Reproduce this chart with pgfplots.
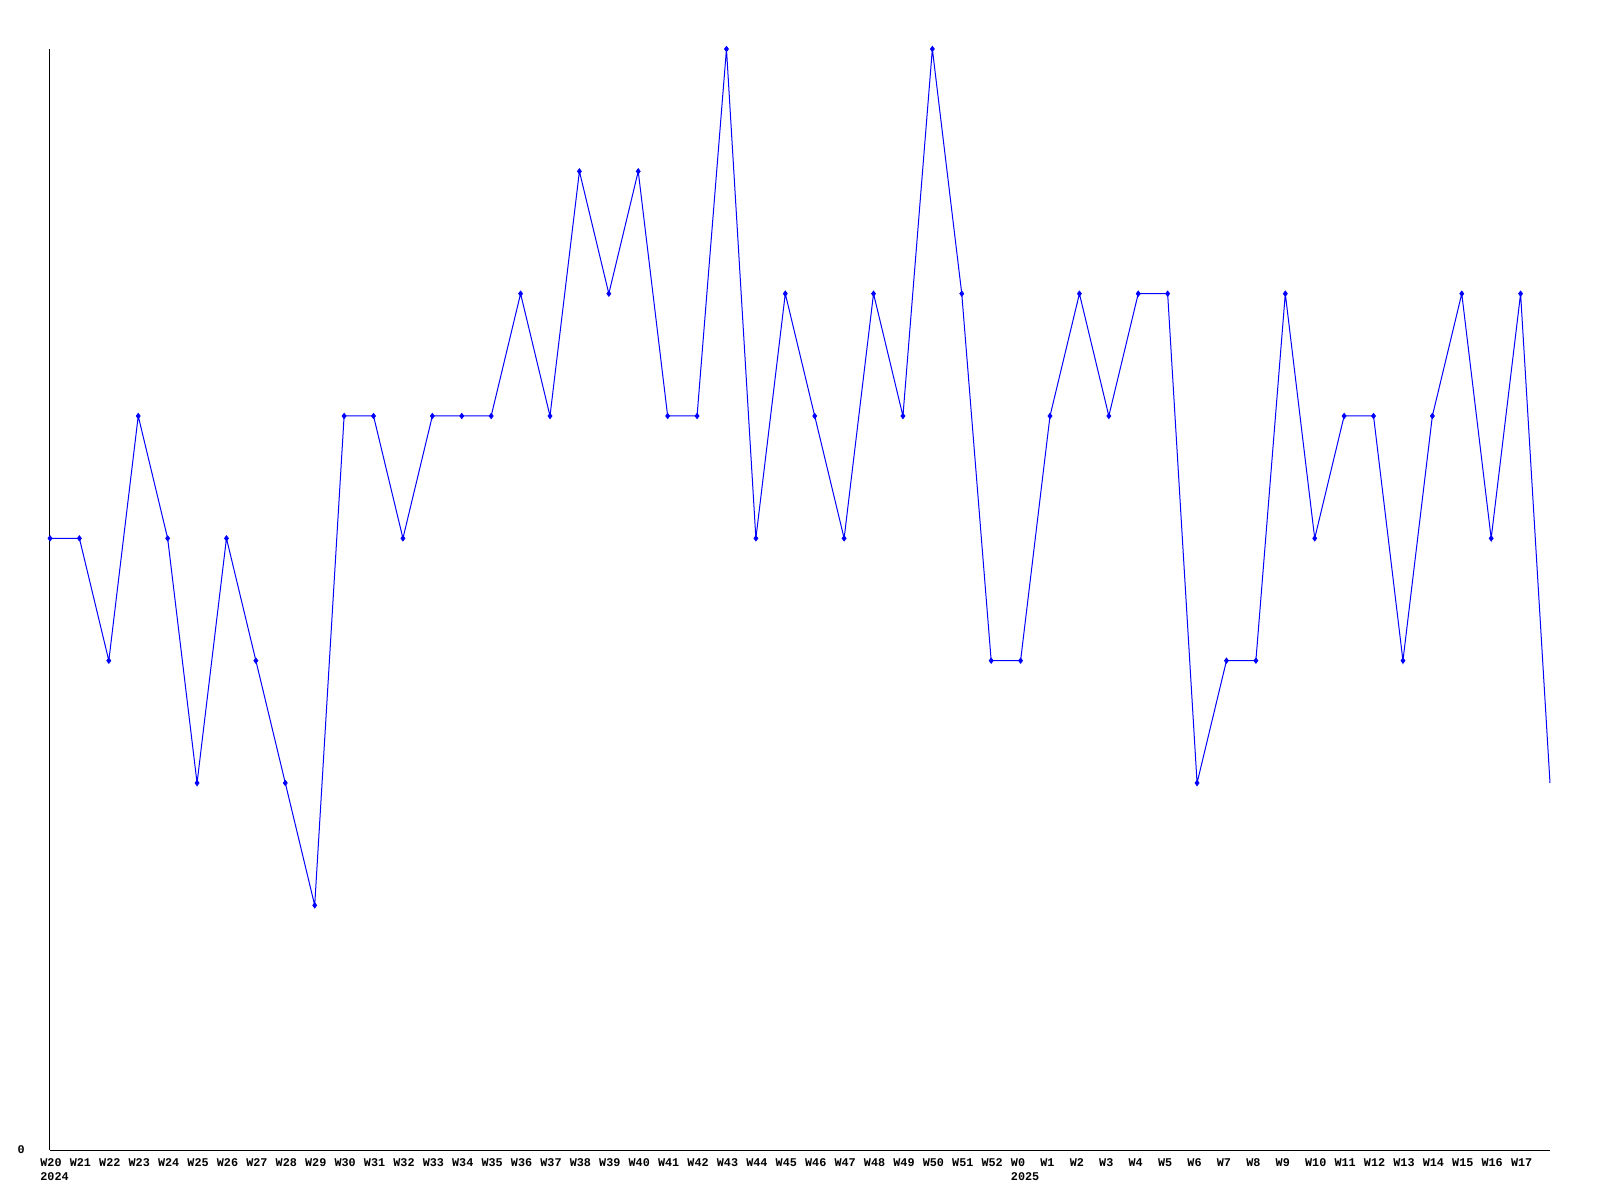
\documentclass[border=0pt]{standalone}
\usepackage{fontspec}
\setmonofont{Liberation Mono}
\usepackage{pgfplots}
\pgfplotsset{compat=1.18}
\begin{document}
\begin{tikzpicture}
\useasboundingbox (-25pt,-25pt) rectangle (775pt,575pt);
\begin{axis}[
  at={(0,0)}, anchor=south west,
  scale only axis, width=750pt, height=550.5pt,
  xmin=0, xmax=51, ymin=0, ymax=9,
  axis x line=bottom, axis y line=left,
  axis line style={-, line width=0.5pt, black},
  major tick length=0pt,
  xtick={0,...,50},
  xticklabels={W20\\2024,W21,W22,W23,W24,W25,W26,W27,W28,W29,W30,W31,W32,W33,W34,W35,W36,W37,W38,W39,W40,W41,W42,W43,W44,W45,W46,W47,W48,W49,W50,W51,W52,W0\\2025,W1,W2,W3,W4,W5,W6,W7,W8,W9,W10,W11,W12,W13,W14,W15,W16,W17},
  xticklabel style={anchor=north west, xshift=-5pt, yshift=-4pt, align=left, inner sep=0pt, font=\ttfamily\bfseries\fontsize{5.9}{7.3}\selectfont},
  ytick={0}, yticklabels={0},
  yticklabel style={anchor=east, xshift=-12.5pt, inner sep=0pt, font=\ttfamily\bfseries\fontsize{5.9}{7.3}\selectfont},
  clip=false,
]
\addplot[blue, line width=0.5pt, mark=none] coordinates {
(0,5)(1,5)(2,4)(3,6)(4,5)(5,3)(6,5)(7,4)(8,3)(9,2)(10,6)(11,6)(12,5)(13,6)(14,6)(15,6)(16,7)(17,6)(18,8)(19,7)(20,8)(21,6)(22,6)(23,9)(24,5)(25,7)(26,6)(27,5)(28,7)(29,6)(30,9)(31,7)(32,4)(33,4)(34,6)(35,7)(36,6)(37,7)(38,7)(39,3)(40,4)(41,4)(42,7)(43,5)(44,6)(45,6)(46,4)(47,6)(48,7)(49,5)(50,7)(51,3)
};
\addplot[blue, only marks, mark=diamond*, mark size=1.3pt] coordinates {
(0,5)(1,5)(2,4)(3,6)(4,5)(5,3)(6,5)(7,4)(8,3)(9,2)(10,6)(11,6)(12,5)(13,6)(14,6)(15,6)(16,7)(17,6)(18,8)(19,7)(20,8)(21,6)(22,6)(23,9)(24,5)(25,7)(26,6)(27,5)(28,7)(29,6)(30,9)(31,7)(32,4)(33,4)(34,6)(35,7)(36,6)(37,7)(38,7)(39,3)(40,4)(41,4)(42,7)(43,5)(44,6)(45,6)(46,4)(47,6)(48,7)(49,5)(50,7)
};
\end{axis}
\end{tikzpicture}
\end{document}
